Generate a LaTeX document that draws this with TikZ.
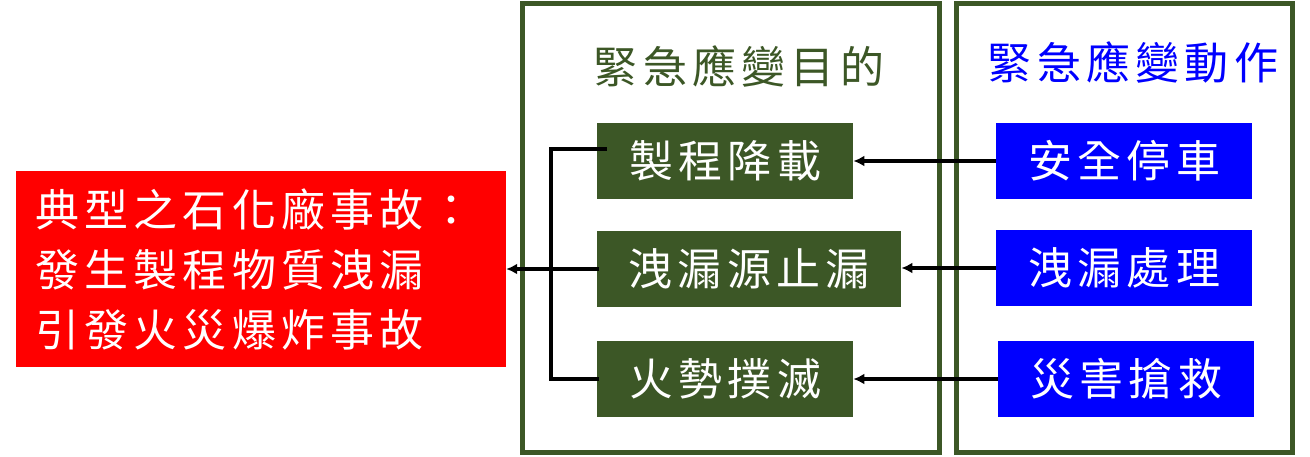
\documentclass[tikz,border=0pt]{standalone}
\usepackage{fontspec}
\newfontfamily\cjk[LetterSpace=12]{Noto Sans CJK TC}
\usetikzlibrary{arrows.meta,positioning}
\definecolor{olive}{RGB}{60,87,38}
\tikzset{eventbox/.style={
            fill=red,
            text=white,
            inner sep=0pt,
            inner xsep=19pt,
            minimum height=196pt,
            text width=452pt,
            align=left,
            font=\cjk\fontsize{44}{60}\selectfont
        },
        goalbox/.style={
            fill=olive,
            text=white,
            inner sep=0pt,
            minimum width=256pt,
            minimum height=76pt,
            font=\cjk\fontsize{44}{50}\selectfont
        },
        actionbox/.style={
            fill=blue,
            text=white,
            inner sep=0pt,
            minimum width=256pt,
            minimum height=76pt,
            font=\cjk\fontsize{44}{50}\selectfont
        },
        frame/.style={
            draw=olive,
            line width=5pt,
            inner sep=0pt
        },
        title/.style={
            inner sep=0pt,
            font=\cjk\fontsize{44}{50}\selectfont
        },
        link/.style={
            line width=3.2pt,
            line cap=rect
        },
        flow/.style={
            line width=3.2pt,
            -{Latex[length=11pt,width=11pt]}
        }
    }

\begin{document}
\begin{tikzpicture}[x=1pt,y=-1pt]
        \useasboundingbox (0,0) rectangle (1310,456);

        \node[frame,minimum width=417pt,minimum height=449pt] (goalframe) at (731,228) {};
        \node[frame,minimum width=336pt,minimum height=449pt] (actionframe) at (1124.5,228) {};

        \node[title,text=olive] (goaltitle) at (739,66) {緊急應變目的};
        \node[title,text=blue] (actiontitle) at (1133,62) {緊急應變動作};

        \node[eventbox] (accident) at (261,269) {典型之石化廠事故：\\發生製程物質洩漏\\引發火災爆炸事故};

        \node[goalbox,anchor=west] (goal1) at (597,161) {製程降載};
        \node[goalbox,anchor=west,minimum width=304pt] (goal2) at (597,269) {洩漏源止漏};
        \node[goalbox,anchor=west] (goal3) at (597,379) {火勢撲滅};

        \node[actionbox,anchor=west] (action1) at (996,161) {安全停車};
        \node[actionbox,anchor=west] (action2) at (996,268) {洩漏處理};
        \node[actionbox,anchor=west] (action3) at (998,379) {災害搶救};

        \draw[flow] (action1.west) -- (goal1.east);
        \draw[flow] (action2.west) -- (goal2.east |- action2.west);
        \draw[flow] (action3.west) -- (goal3.east);

        \coordinate (joint) at (551,269);
        \draw[link] ([xshift=8pt,yshift=12pt]goal1.west) -| (joint);
        \draw[link] (goal3.west) -| (joint);
        \draw[link] (goal2.west) -- (joint);
        \draw[flow] (joint) -- (accident.east);

    \end{tikzpicture}
\end{document}
